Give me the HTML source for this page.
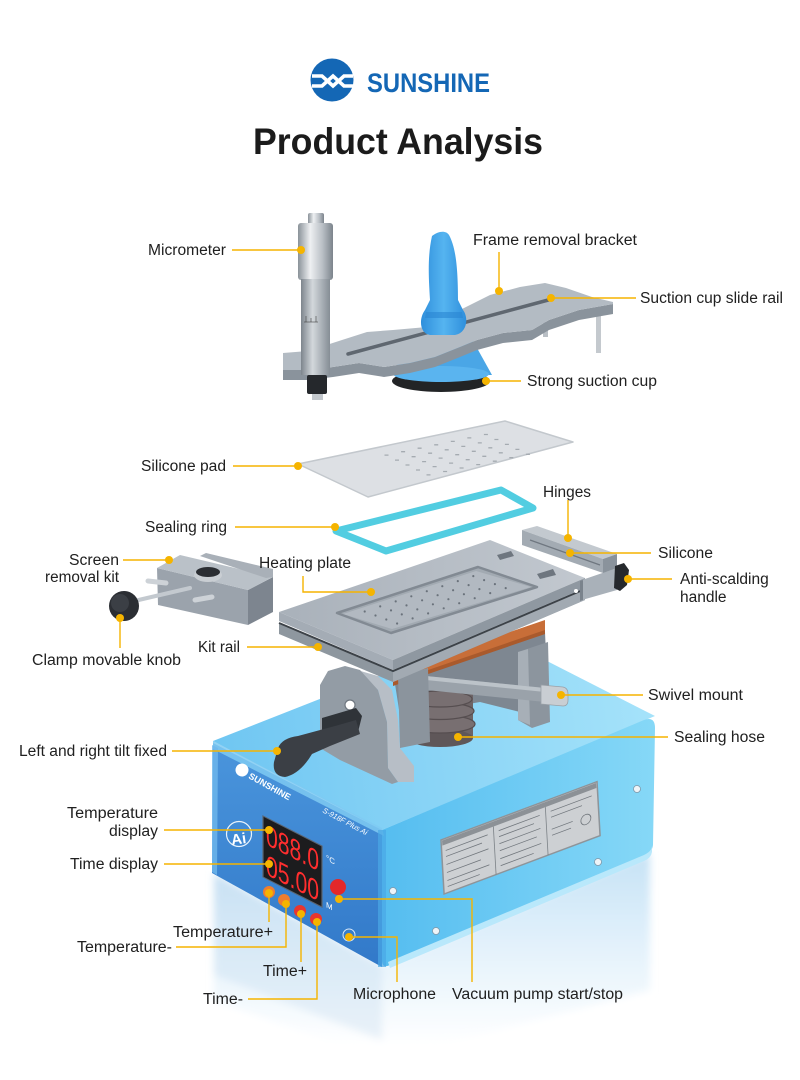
<!DOCTYPE html>
<html><head><meta charset="utf-8"><style>
html,body{margin:0;padding:0;background:#fff;}
svg{display:block}
text{font-family:"Liberation Sans",Arial,sans-serif;}
</style></head><body>
<svg width="800" height="1080" viewBox="0 0 800 1080" xmlns="http://www.w3.org/2000/svg">
<defs>
<linearGradient id="gFront" x1="0" y1="0" x2="0" y2="1"><stop offset="0" stop-color="#4a95dc"/><stop offset="1" stop-color="#3279c9"/></linearGradient>
<linearGradient id="gRight" gradientUnits="userSpaceOnUse" x1="382" y1="0" x2="655" y2="0"><stop offset="0" stop-color="#55bdf0"/><stop offset="1" stop-color="#86d8f7"/></linearGradient>
<linearGradient id="gTop" gradientUnits="userSpaceOnUse" x1="213" y1="740" x2="655" y2="680"><stop offset="0" stop-color="#6fc6f2"/><stop offset="1" stop-color="#a6e3fa"/></linearGradient>
<linearGradient id="gRefl" gradientUnits="userSpaceOnUse" x1="0" y1="860" x2="0" y2="1045"><stop offset="0" stop-color="#c8e3f6"/><stop offset="0.45" stop-color="#e2f1fb"/><stop offset="1" stop-color="#ffffff"/></linearGradient>
<linearGradient id="gMic" x1="0" y1="0" x2="1" y2="0"><stop offset="0" stop-color="#8a9299"/><stop offset="0.35" stop-color="#eef0f2"/><stop offset="0.7" stop-color="#b9bfc5"/><stop offset="1" stop-color="#7c848c"/></linearGradient>
<linearGradient id="gMic2" x1="0" y1="0" x2="1" y2="0"><stop offset="0" stop-color="#7d858d"/><stop offset="0.4" stop-color="#d3d8dc"/><stop offset="1" stop-color="#858d95"/></linearGradient>
<linearGradient id="gPlate" x1="0" y1="0" x2="1" y2="0"><stop offset="0" stop-color="#a9b1ba"/><stop offset="1" stop-color="#c2c8cf"/></linearGradient>
<linearGradient id="gBlue" x1="0" y1="0" x2="1" y2="0"><stop offset="0" stop-color="#2f8fdc"/><stop offset="0.5" stop-color="#55b4f0"/><stop offset="1" stop-color="#2f8fdc"/></linearGradient>
<filter id="blur" x="-10%" y="-10%" width="120%" height="120%"><feGaussianBlur stdDeviation="4"/></filter>
</defs>

<!-- Logo -->
<circle cx="332" cy="80" r="21.5" fill="#1467b5"/>
<path d="M312,76 H322 L333,86 L344,76 H353" fill="none" stroke="#fff" stroke-width="3.6"/>
<path d="M312,86 H322 L333,76 L344,86 H353" fill="none" stroke="#fff" stroke-width="3.6"/>
<text x="367" y="92" font-size="27" font-weight="bold" fill="#1467b5" textLength="123" lengthAdjust="spacingAndGlyphs">SUNSHINE</text>
<text x="253" y="154" font-size="37" font-weight="bold" fill="#1b1b1b" textLength="290" lengthAdjust="spacingAndGlyphs">Product Analysis</text>

<!-- Reflection -->
<g filter="url(#blur)">
<polygon points="214,873 382,965 650,853 650,990 382,1060 214,1000" fill="url(#gRefl)"/>
<polygon points="214,873 382,965 382,1040 214,975" fill="#c3d9ef" opacity="0.35"/>
</g>

<!-- Box -->
<polygon points="213,741 490,632 655,716 382,830" fill="url(#gTop)"/>
<path d="M382,830 L644,720 Q655,716 655,728 L653,845 Q652,853 644,857 L390,965 Q382,969 382,960 Z" fill="url(#gRight)"/>
<path d="M388,962 L644,855 Q652,851 652,846 L652,852 Q651,858 644,861 L390,968 Z" fill="#b9e8fb"/>
<polygon points="213,743 382,830 382,967 212,873" fill="url(#gFront)"/>
<polygon points="213,741 382,828 384,836 213,749" fill="#7fcaf2" opacity="0.85"/>
<polygon points="212,745 218,748 217,875 212,872" fill="#6fb8ec" opacity="0.8"/>
<rect x="378" y="830" width="8" height="137" fill="#4aa8e6" opacity="0.7"/>
<!-- front face decorations -->
<g transform="rotate(29 242 770)">
<circle cx="242" cy="770" r="6.5" fill="#fff"/>
<text x="251" y="774" font-size="9" font-weight="bold" fill="#fff">SUNSHINE</text>
</g>
<text x="322" y="812" font-size="7.5" font-style="italic" fill="#fff" transform="rotate(28 322 812)">S-918F Plus Ai</text>
<circle cx="239" cy="834" r="12.5" fill="none" stroke="#e8f3fc" stroke-width="1.2"/>
<text x="231" y="844" font-size="15" font-weight="bold" fill="#fff" transform="rotate(-8 239 838)">Ai</text>
<g transform="matrix(1,0.51,0,1,263,816)">
<rect x="0" y="0" width="59" height="61" fill="#1c1c1e" stroke="#5a6470" stroke-width="1.2"/>
<text x="3" y="27" font-family="Liberation Mono" font-size="29" fill="#ff2e2e" textLength="53" lengthAdjust="spacingAndGlyphs">088.0</text>
<text x="3" y="57" font-family="Liberation Mono" font-size="29" fill="#ff2e2e" textLength="53" lengthAdjust="spacingAndGlyphs">05.00</text>
<text x="63" y="12" font-size="8" fill="#fff">°C</text>
<text x="63" y="59" font-size="8" fill="#fff">M</text>
</g>
<circle cx="269" cy="892" r="6" fill="#f07d2e"/>
<circle cx="284" cy="900" r="6" fill="#f07d2e"/>
<circle cx="300" cy="911" r="6" fill="#e8362e"/>
<circle cx="316" cy="919" r="6" fill="#e8362e"/>
<circle cx="338" cy="887" r="8" fill="#e3282a"/>
<circle cx="349" cy="935" r="6" fill="none" stroke="#dbe9f7" stroke-width="1"/>
<!-- label plate -->
<g transform="matrix(1,-0.374,0.057,1,441,840)">
<rect x="0" y="0" width="156" height="54" fill="#cdd0d3" stroke="#8e9499" stroke-width="1.5"/>
<rect x="1" y="1" width="154" height="5" fill="#8c9196"/>
<line x1="52" y1="6" x2="52" y2="54" stroke="#7d8388" stroke-width="0.8"/>
<line x1="104" y1="6" x2="104" y2="54" stroke="#7d8388" stroke-width="0.8"/>
<g stroke="#70767c" stroke-width="0.8">
<line x1="4" y1="12" x2="46" y2="12"/><line x1="4" y1="18" x2="40" y2="18"/><line x1="4" y1="26" x2="46" y2="26"/><line x1="4" y1="34" x2="38" y2="34"/><line x1="4" y1="42" x2="46" y2="42"/><line x1="4" y1="48" x2="36" y2="48"/>
<line x1="57" y1="12" x2="98" y2="12"/><line x1="57" y1="18" x2="92" y2="18"/><line x1="57" y1="25" x2="98" y2="25"/><line x1="57" y1="32" x2="94" y2="32"/><line x1="57" y1="40" x2="98" y2="40"/><line x1="57" y1="47" x2="90" y2="47"/>
<line x1="109" y1="12" x2="150" y2="12"/><line x1="109" y1="18" x2="140" y2="18"/><line x1="109" y1="30" x2="130" y2="30"/><line x1="109" y1="36" x2="128" y2="36"/>
</g>
<circle cx="143" cy="33" r="5" fill="none" stroke="#70767c" stroke-width="0.8"/>
</g>
<g fill="#eef4f8" stroke="#7f97a8" stroke-width="0.8">
<circle cx="393" cy="891" r="3.5"/><circle cx="436" cy="931" r="3.5"/><circle cx="598" cy="862" r="3.5"/><circle cx="637" cy="789" r="3.5"/>
</g>

<!-- under-plate mechanism -->
<polygon points="395,684 545,632 548,700 520,712 480,702 400,716" fill="#7e8791"/>
<polygon points="518,652 548,642 550,722 532,728 518,720" fill="#8c959e"/>
<polygon points="518,652 528,649 530,725 518,720" fill="#a7afb7"/>
<rect x="407" y="692" width="66" height="46" fill="#6d6466"/>
<ellipse cx="440" cy="738" rx="33" ry="9" fill="#5f5759"/>
<g fill="#786f71" stroke="#564e50" stroke-width="1.2">
<ellipse cx="440" cy="724" rx="35" ry="9"/>
<ellipse cx="440" cy="711" rx="34" ry="8.5"/>
<ellipse cx="440" cy="699" rx="32" ry="8"/>
</g>
<polygon points="426,676 545,688 545,702 426,690" fill="#9aa2aa"/>
<polygon points="426,676 545,688 545,692 426,680" fill="#bcc3c9"/>
<path d="M541,685 L563,687 Q568,688 568,694 L568,700 Q568,706 563,706 L541,704 Z" fill="#c9ced3" stroke="#9aa1a8" stroke-width="0.8"/>
<polygon points="393,672 545,620 545,634 393,685" fill="#c86e38"/>
<polygon points="393,682 545,630 545,634 393,686" fill="#a95a2c"/>
<!-- block behind left bracket -->
<polygon points="398,676 428,668 430,742 400,748" fill="#8b949d"/>
<!-- left bracket -->
<polygon points="357,670 378,676 392,690 398,720 400,748 414,766 414,782 398,782 388,768 387,722 378,690" fill="#b7bec6"/>
<polygon points="320,685 328,671 345,666 360,670 378,690 387,722 388,768 398,782 392,784 340,760 320,748" fill="#939ca5"/>
<circle cx="350" cy="705" r="5" fill="#fff" stroke="#6f7780" stroke-width="1.2"/>
<!-- tilt lever -->
<polygon points="322,718 356,708 362,716 358,732 330,742 322,735" fill="#2f3338"/>
<path d="M278,748 Q282,738 298,736 L335,726 L356,720 L360,734 L330,746 L312,754 Q300,774 285,777 Q272,776 274,762 Z" fill="#3b3f45"/>

<!-- heating plate assembly -->
<polygon points="279,624 393,672 585,590 585,600 393,682 279,634" fill="#8e979f"/>
<polygon points="393,672 585,590 585,600 393,682" fill="#a2aab2"/>
<polyline points="279,623 393,671 585,589" fill="none" stroke="#3c4248" stroke-width="2"/>
<polygon points="279,612 490,540 585,578 393,660" fill="url(#gPlate)"/>
<polygon points="279,612 393,660 393,670 279,621" fill="#a4acb5"/>
<polygon points="393,660 585,578 585,588 393,670" fill="#8f98a1"/>
<polygon points="337,613 478,567 537,587 391,633" fill="#a2aab2" stroke="#828a93" stroke-width="2.5" stroke-linejoin="round"/>
<polygon points="343,614 476,571 531,587 392,629" fill="#b2b9c1"/>
<path d="M364.7 611.5h.01M380.2 606.4h.01M395.7 601.4h.01M411.3 596.3h.01M426.8 591.2h.01M442.3 586.2h.01M457.8 581.1h.01M473.3 576.1h.01M375.5 615.5h.01M391 610.4h.01M406.5 605.4h.01M422.1 600.3h.01M437.6 595.2h.01M453.1 590.2h.01M468.6 585.1h.01M484.1 580.1h.01M386.3 619.5h.01M401.8 614.4h.01M417.3 609.4h.01M432.9 604.3h.01M448.4 599.2h.01M463.9 594.2h.01M479.4 589.1h.01M494.9 584.1h.01M397.1 623.5h.01M412.6 618.4h.01M428.1 613.4h.01M443.7 608.3h.01M459.2 603.2h.01M474.7 598.2h.01M490.2 593.1h.01M505.7 588.1h.01" stroke="#6a727b" stroke-width="2.2" stroke-linecap="round"/>
<polygon points="497,555 511,551 514,556 500,560" fill="#6e767f"/>
<polygon points="537,574 553,569 556,575 540,579" fill="#6e767f"/>
<!-- right end & hinge -->
<polygon points="582,580 617,568 617,590 582,600" fill="#a9b1b9"/>
<polygon points="580,581 583,580 583,600 580,601" fill="#7a838c"/>
<circle cx="576" cy="591" r="2" fill="#fff"/>
<polygon points="522,530 537,526 617,554 603,559" fill="#c3c9cf"/>
<polygon points="522,530 603,559 603,573 522,545" fill="#a3abb3"/>
<polygon points="603,559 617,554 617,568 603,573" fill="#8a939c"/>
<line x1="530" y1="540" x2="600" y2="565" stroke="#6f7780" stroke-width="1.2"/>
<path d="M615,566 L624,563 L629,570 L627,585 L620,591 L614,588 Z" fill="#26292d"/>

<!-- screen removal kit -->
<polygon points="248,590 273,577 273,612 248,625" fill="#7d858f"/>
<polygon points="157,568 248,590 248,625 158,605" fill="#9ba3ac"/>
<polygon points="157,568 180,555 273,577 248,590" fill="#bac1c8"/>
<polygon points="200,556 206,553 273,569 273,577 266,578" fill="#a9b0b8"/>
<ellipse cx="208" cy="575" rx="14" ry="7" fill="#c9ced3"/>
<ellipse cx="208" cy="572" rx="12" ry="5" fill="#2b2e33"/>
<line x1="148" y1="581" x2="166" y2="583" stroke="#cdd2d7" stroke-width="5" stroke-linecap="round"/>
<line x1="195" y1="600" x2="212" y2="597" stroke="#cdd2d7" stroke-width="5" stroke-linecap="round"/>
<line x1="130" y1="602" x2="190" y2="588" stroke="#c3c9cf" stroke-width="4" stroke-linecap="round"/>
<circle cx="124" cy="606" r="15" fill="#2b2e33"/>
<circle cx="120" cy="603" r="9" fill="#3b3f45"/>

<!-- sealing ring -->
<polygon points="336,531 501,490 533,508 386,551" fill="none" stroke="#52cde1" stroke-width="7" stroke-linejoin="round"/>

<!-- silicone pad -->
<polygon points="298,464 505,421 573,442 368,497" fill="#dde0e4" stroke="#c3c8cd" stroke-width="1.5" stroke-linejoin="round"/>
<path d="M384.5 455.1h4M401.1 451.7h4M417.6 448.2h4M434.2 444.8h4M450.8 441.4h4M467.3 437.9h4M483.9 434.5h4M395 460.1h4M411.6 456.7h4M428.1 453.2h4M444.7 449.8h4M461.3 446.4h4M477.8 442.9h4M494.4 439.5h4M405.5 465h4M422.1 461.6h4M438.6 458.1h4M455.2 454.7h4M471.8 451.3h4M488.3 447.8h4M504.9 444.4h4M416 470h4M432.6 466.6h4M449.1 463.1h4M465.7 459.7h4M482.3 456.3h4M498.8 452.8h4M515.4 449.4h4M426.5 474.9h4M443.1 471.5h4M459.6 468h4M476.2 464.6h4M492.8 461.2h4M509.3 457.7h4M525.9 454.3h4" stroke="#a5abb1" stroke-width="1.3"/>

<!-- top assembly -->
<rect x="596" y="308" width="5" height="45" fill="#c4c9ce"/>
<rect x="543" y="322" width="5" height="15" fill="#b9bfc5"/>
<path d="M420,330 L467,330 L492,375 L390,375 Z" fill="#4aa6e6"/>
<ellipse cx="441" cy="381" rx="49" ry="11" fill="#222426"/>
<ellipse cx="441" cy="374" rx="48" ry="8" fill="#5ab4ef"/>
<!-- plate front face -->
<path d="M613,304 L579,310 L549,320 L532,330 L503,333 L477,340 L460,347 L435,357 L410,363 L384,367 L359,363 L333,367 L308,370 L283,370 L283,380 L308,380 L333,377 L359,373 L384,377 L410,373 L435,367 L460,357 L477,350 L503,343 L532,340 L549,330 L579,320 L613,314 Z" fill="#8a939c"/>
<path d="M283,353 L308,351 L342,340 L367,332 L393,330 L427,327 L460,310 L490,295 L520,287 L545,283 L566,288 L592,297 L613,302 L613,304 L579,310 L549,320 L532,330 L503,333 L477,340 L460,347 L435,357 L410,363 L384,367 L359,363 L333,367 L308,370 L283,370 Z" fill="#b3bbc3"/>
<line x1="348" y1="354" x2="552" y2="299" stroke="#5f6770" stroke-width="3.5" stroke-linecap="round"/>
<!-- blue handle -->
<path d="M432,236 C438,231 446,230 449,235 C455,246 458,264 458,300 L463,310 C469,318 467,333 455,335 L430,335 C419,333 419,318 425,310 L430,300 C429,282 427,258 432,236 Z" fill="url(#gBlue)"/>
<path d="M426,312 L462,312 L463,318 L425,318 Z" fill="#2a86d2" opacity="0.6"/>
<!-- micrometer -->
<rect x="308" y="213" width="16" height="12" rx="2" fill="url(#gMic)"/>
<rect x="298" y="223" width="35" height="57" rx="3" fill="url(#gMic)"/>
<rect x="301" y="279" width="29" height="96" fill="url(#gMic2)"/>
<g stroke="#444" stroke-width="0.6">
<line x1="304" y1="322" x2="318" y2="322"/><line x1="306" y1="316" x2="306" y2="322"/><line x1="311" y1="318" x2="311" y2="322"/><line x1="316" y1="316" x2="316" y2="322"/>
</g>
<rect x="307" y="375" width="20" height="19" rx="2" fill="#25282c"/>
<rect x="312" y="394" width="11" height="6" fill="#c3c8cd"/>

<!-- connectors -->
<g stroke="#f5b400" stroke-width="1.4" fill="none">
<line x1="232" y1="250" x2="300" y2="250"/>
<line x1="499" y1="252" x2="499" y2="290"/>
<line x1="551" y1="298" x2="636" y2="298"/>
<line x1="486" y1="381" x2="521" y2="381"/>
<line x1="233" y1="466" x2="298" y2="466"/>
<line x1="568" y1="500" x2="568" y2="538"/>
<line x1="235" y1="527" x2="335" y2="527"/>
<line x1="570" y1="553" x2="651" y2="553"/>
<line x1="123" y1="560" x2="169" y2="560"/>
<polyline points="303,576 303,592 371,592"/>
<line x1="628" y1="579" x2="672" y2="579"/>
<line x1="247" y1="647" x2="318" y2="647"/>
<line x1="120" y1="618" x2="120" y2="648"/>
<line x1="561" y1="695" x2="643" y2="695"/>
<line x1="458" y1="737" x2="668" y2="737"/>
<line x1="172" y1="751" x2="277" y2="751"/>
<line x1="164" y1="830" x2="269" y2="830"/>
<line x1="164" y1="864" x2="269" y2="864"/>
<line x1="269" y1="893" x2="269" y2="922"/>
<polyline points="286,904 286,947 176,947"/>
<line x1="301" y1="914" x2="301" y2="962"/>
<polyline points="317,922 317,999 248,999"/>
<polyline points="349,937 397,937 397,982"/>
<polyline points="339,899 472,899 472,982"/>
</g>
<g fill="#f5b400">
<circle cx="301" cy="250" r="4"/><circle cx="499" cy="291" r="4"/><circle cx="551" cy="298" r="4"/><circle cx="486" cy="381" r="4"/>
<circle cx="298" cy="466" r="4"/><circle cx="568" cy="538" r="4"/><circle cx="335" cy="527" r="4"/><circle cx="570" cy="553" r="4"/>
<circle cx="169" cy="560" r="4"/><circle cx="371" cy="592" r="4"/><circle cx="628" cy="579" r="4"/><circle cx="318" cy="647" r="4"/>
<circle cx="120" cy="618" r="4"/><circle cx="561" cy="695" r="4"/><circle cx="458" cy="737" r="4"/><circle cx="277" cy="751" r="4"/>
<circle cx="269" cy="830" r="4"/><circle cx="269" cy="864" r="4"/><circle cx="269" cy="893" r="4"/><circle cx="286" cy="904" r="4"/>
<circle cx="301" cy="914" r="4"/><circle cx="317" cy="922" r="4"/><circle cx="349" cy="937" r="4"/><circle cx="339" cy="899" r="4"/>
</g>

<!-- labels -->
<g font-size="15.5" fill="#202020">
<text x="148" y="255" textLength="78" lengthAdjust="spacingAndGlyphs">Micrometer</text>
<text x="473" y="245" textLength="164" lengthAdjust="spacingAndGlyphs">Frame removal bracket</text>
<text x="640" y="303" textLength="143" lengthAdjust="spacingAndGlyphs">Suction cup slide rail</text>
<text x="527" y="386" textLength="130" lengthAdjust="spacingAndGlyphs">Strong suction cup</text>
<text x="141" y="471" textLength="85" lengthAdjust="spacingAndGlyphs">Silicone pad</text>
<text x="543" y="497" textLength="48" lengthAdjust="spacingAndGlyphs">Hinges</text>
<text x="145" y="532" textLength="82" lengthAdjust="spacingAndGlyphs">Sealing ring</text>
<text x="658" y="558" textLength="55" lengthAdjust="spacingAndGlyphs">Silicone</text>
<text x="69" y="565" textLength="50" lengthAdjust="spacingAndGlyphs">Screen</text>
<text x="45" y="582" textLength="74" lengthAdjust="spacingAndGlyphs">removal kit</text>
<text x="259" y="568" textLength="92" lengthAdjust="spacingAndGlyphs">Heating plate</text>
<text x="680" y="584">Anti-scalding</text>
<text x="680" y="602">handle</text>
<text x="198" y="652" textLength="42" lengthAdjust="spacingAndGlyphs">Kit rail</text>
<text x="32" y="665" textLength="149" lengthAdjust="spacingAndGlyphs">Clamp movable knob</text>
<text x="648" y="700" textLength="95" lengthAdjust="spacingAndGlyphs">Swivel mount</text>
<text x="674" y="742" textLength="91" lengthAdjust="spacingAndGlyphs">Sealing hose</text>
<text x="19" y="756" textLength="148" lengthAdjust="spacingAndGlyphs">Left and right tilt fixed</text>
<text x="67" y="818" textLength="91" lengthAdjust="spacingAndGlyphs">Temperature</text>
<text x="109" y="836" textLength="49" lengthAdjust="spacingAndGlyphs">display</text>
<text x="70" y="869" textLength="88" lengthAdjust="spacingAndGlyphs">Time display</text>
<text x="173" y="937" textLength="100" lengthAdjust="spacingAndGlyphs">Temperature+</text>
<text x="77" y="952" textLength="95" lengthAdjust="spacingAndGlyphs">Temperature-</text>
<text x="263" y="976" textLength="44" lengthAdjust="spacingAndGlyphs">Time+</text>
<text x="203" y="1004" textLength="40" lengthAdjust="spacingAndGlyphs">Time-</text>
<text x="353" y="999" textLength="83" lengthAdjust="spacingAndGlyphs">Microphone</text>
<text x="452" y="999" textLength="171" lengthAdjust="spacingAndGlyphs">Vacuum pump start/stop</text>
</g>
</svg>
</body></html>
